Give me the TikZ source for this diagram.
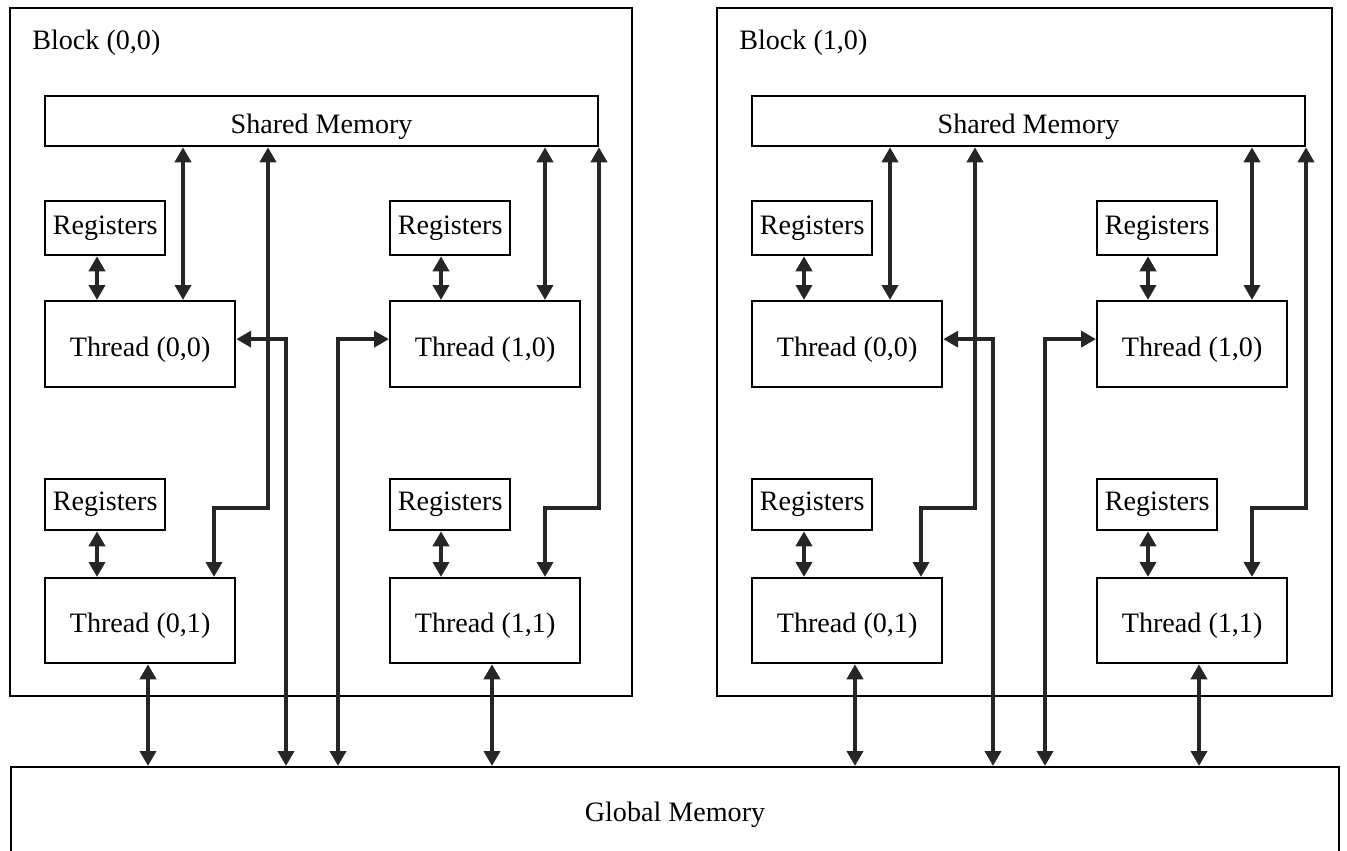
\documentclass[tikz,border=0pt]{standalone}
\usepackage{fontspec}
\setmainfont{Liberation Serif}
\usetikzlibrary{arrows.meta}

\tikzset{
  box/.style={draw=black,line width=1.3pt,inner sep=0pt,anchor=north west,font=\fontsize{16}{19}\selectfont},
  low/.style={text height=0.63cm,text depth=0.14cm},
  link/.style={draw=black!85,line width=2.2pt,{Triangle[length=0.3cm,width=0.32cm]}-{Triangle[length=0.3cm,width=0.32cm]}}
}

\begin{document}
\begin{tikzpicture}[x=0.02cm,y=-0.02cm]

\useasboundingbox (0,0) rectangle (1347,851);

\node[box,low,minimum width=26.56cm,minimum height=1.7cm] (gm) at (10,766) {Global Memory};

\foreach \b/\ox/\rx in {0/0/632,1/707/1332}{
\draw[line width=1.3pt] (\ox+10,8) rectangle (\rx,696);
\node[anchor=west,inner sep=0pt,font=\fontsize{16}{19}\selectfont] (blk\b) at (\ox+32,43) {Block (\b,0)};

\node[box,low,minimum width=11.06cm,minimum height=1cm] (sm\b) at (\ox+44,95) {Shared Memory};

\node[box,minimum width=2.4cm,minimum height=1.08cm] (r00\b) at (\ox+44,200) {Registers};
\node[box,minimum width=2.4cm,minimum height=1.08cm] (r10\b) at (\ox+389,200) {Registers};
\node[box,minimum width=2.4cm,minimum height=1.02cm] (r01\b) at (\ox+44,478) {Registers};
\node[box,minimum width=2.4cm,minimum height=1.02cm] (r11\b) at (\ox+389,478) {Registers};

\node[box,low,minimum width=3.8cm,minimum height=1.72cm] (t00\b) at (\ox+44,300) {Thread (0,0)};
\node[box,low,minimum width=3.8cm,minimum height=1.72cm] (t10\b) at (\ox+389,300) {Thread (1,0)};
\node[box,low,minimum width=3.8cm,minimum height=1.7cm] (t01\b) at (\ox+44,577) {Thread (0,1)};
\node[box,low,minimum width=3.8cm,minimum height=1.7cm] (t11\b) at (\ox+389,577) {Thread (1,1)};

\draw[link] ({\ox+97},0 |- r00\b.south) -- ({\ox+97},0 |- t00\b.north);
\draw[link] ({\ox+441},0 |- r10\b.south) -- ({\ox+441},0 |- t10\b.north);
\draw[link] ({\ox+97},0 |- r01\b.south) -- ({\ox+97},0 |- t01\b.north);
\draw[link] ({\ox+441},0 |- r11\b.south) -- ({\ox+441},0 |- t11\b.north);

\draw[link] ({\ox+183},0 |- sm\b.south) -- ({\ox+183},0 |- t00\b.north);
\draw[link] ({\ox+545},0 |- sm\b.south) -- ({\ox+545},0 |- t10\b.north);
\draw[link] ({\ox+268},0 |- sm\b.south) -- ({\ox+268},508) -| ({\ox+214},0 |- t01\b.north);
\draw[link] ({\ox+599},0 |- sm\b.south) -- ({\ox+599},508) -| ({\ox+545},0 |- t11\b.north);

\draw[link] ([yshift=0.1cm]t00\b.east) -| ({\ox+286},0 |- gm.north);
\draw[link] ([yshift=0.1cm]t10\b.west) -| ({\ox+338},0 |- gm.north);
\draw[link] ({\ox+148},0 |- t01\b.south) -- ({\ox+148},0 |- gm.north);
\draw[link] ({\ox+492},0 |- t11\b.south) -- ({\ox+492},0 |- gm.north);
}

\end{tikzpicture}
\end{document}
